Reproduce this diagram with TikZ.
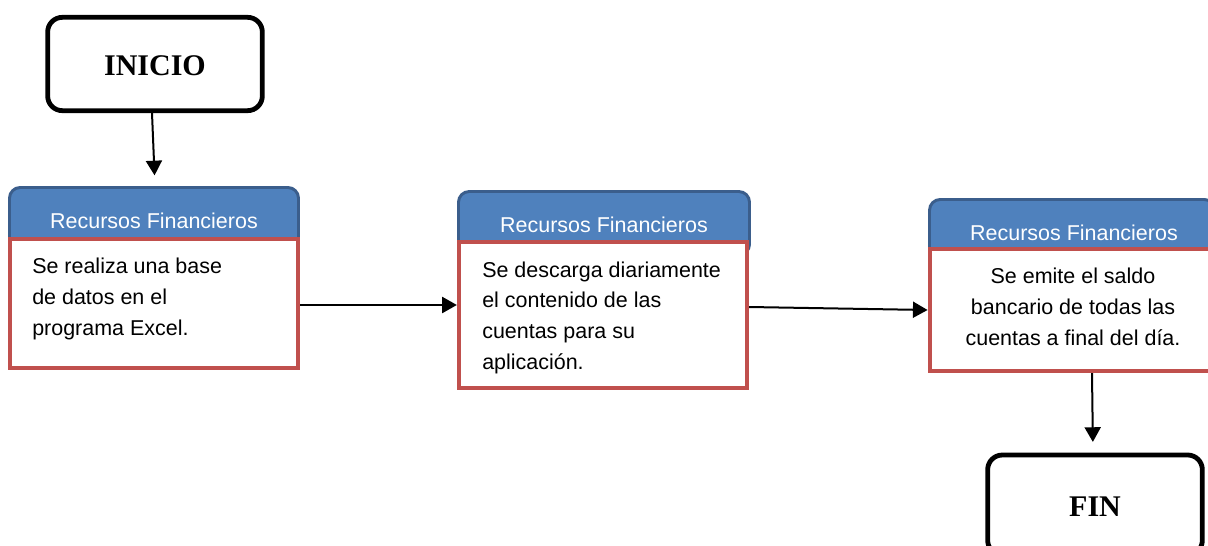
\documentclass[tikz,border=0pt]{standalone}
\usepackage{fontspec}
\setmainfont{Liberation Sans}
\newfontfamily\titlefont{Liberation Serif}
\usetikzlibrary{arrows.meta}
\definecolor{hdrblue}{HTML}{4F81BD}
\definecolor{hdrline}{HTML}{3B5E8C}
\definecolor{boxred}{HTML}{C0504D}
\tikzset{
  terminal/.style={draw=black, line width=3.6pt, rounded corners=11pt, fill=white, inner sep=0pt},
  header/.style={draw=hdrline, fill=hdrblue, line width=2.2pt, rounded corners=8pt, inner sep=0pt},
  body/.style={draw=boxred, fill=white, line width=3.2pt, inner sep=0pt},
  hdrtext/.style={text=white, font=\fontsize{16.1pt}{19pt}\selectfont, inner sep=0pt},
  bodytext/.style={text=black, font=\fontsize{16.1pt}{22.9pt}\selectfont, inner sep=0pt},
  termtext/.style={font=\titlefont\bfseries\fontsize{22.5pt}{26pt}\selectfont, inner sep=0pt},
  flow/.style={-{Triangle[length=11pt,width=12pt]}, line width=1.5pt, black},
}
\begin{document}
\begin{tikzpicture}[x=0.75pt,y=-0.75pt]
\useasboundingbox (0,0) rectangle (1208,546);
% terminals
\node[terminal, minimum width=161pt, minimum height=70pt] (inicio) at (155,64) {};
\node[termtext, anchor=base] (inicioT) at (155,75) {INICIO};
\node[terminal, minimum width=161pt, minimum height=75pt] (fin) at (1095,505) {};
\node[termtext, anchor=base] (finT) at (1095,516) {FIN};
% box 1
\node[header, minimum width=216.75pt, minimum height=46.9pt] (h1) at (154,218.75) {};
\node[body, minimum width=216pt, minimum height=96.7pt] (b1) at (154,303.5) {};
\node[hdrtext, anchor=base] (h1t) at (154,228) {Recursos Financieros};
\node[bodytext, align=left, anchor=base west] (b1t) at (32,335) {Se realiza una base\\de datos en el\\programa Excel.};
% box 2
\node[header, minimum width=218.25pt, minimum height=47.6pt] (h2) at (604,223.25) {};
\node[body, minimum width=216pt, minimum height=109.5pt] (b2) at (603,315) {};
\node[hdrtext, anchor=base] (h2t) at (604,232) {Recursos Financieros};
\node[bodytext, align=left, anchor=base west] (b2t) at (482,369) {Se descarga diariamente\\el contenido de las\\cuentas para su\\aplicación.};
% box 3
\node[header, minimum width=214.1pt, minimum height=45.4pt] (h3) at (1072.25,229.75) {};
\node[body, minimum width=214pt, minimum height=91.5pt] (b3) at (1072.4,310) {};
\node[hdrtext, anchor=base] (h3t) at (1074,240) {Recursos Financieros};
\node[bodytext, align=center, anchor=base] (b3t) at (1073,345) {Se emite el saldo\\bancario de todas las\\cuentas a final del día.};
% connectors
\coordinate (a0s) at (inicio.south -| 152,0);
\coordinate (a0e) at (h1.north -| 155,0);
\coordinate (a1s) at (b1.east |- 0,305);
\coordinate (a1e) at (b2.west |- 0,305);
\coordinate (a2s) at (b2.east |- 0,307);
\coordinate (a2e) at (b3.west |- 0,310);
\coordinate (a3s) at (b3.south -| 1092,0);
\coordinate (a3e) at (fin.north -| 1093,0);
\draw[flow, shorten >=8pt] (a0s) -- (a0e);
\draw[flow] (a1s) -- (a1e);
\draw[flow] (a2s) -- (a2e);
\draw[flow, shorten >=8pt] (a3s) -- (a3e);
\end{tikzpicture}
\end{document}
